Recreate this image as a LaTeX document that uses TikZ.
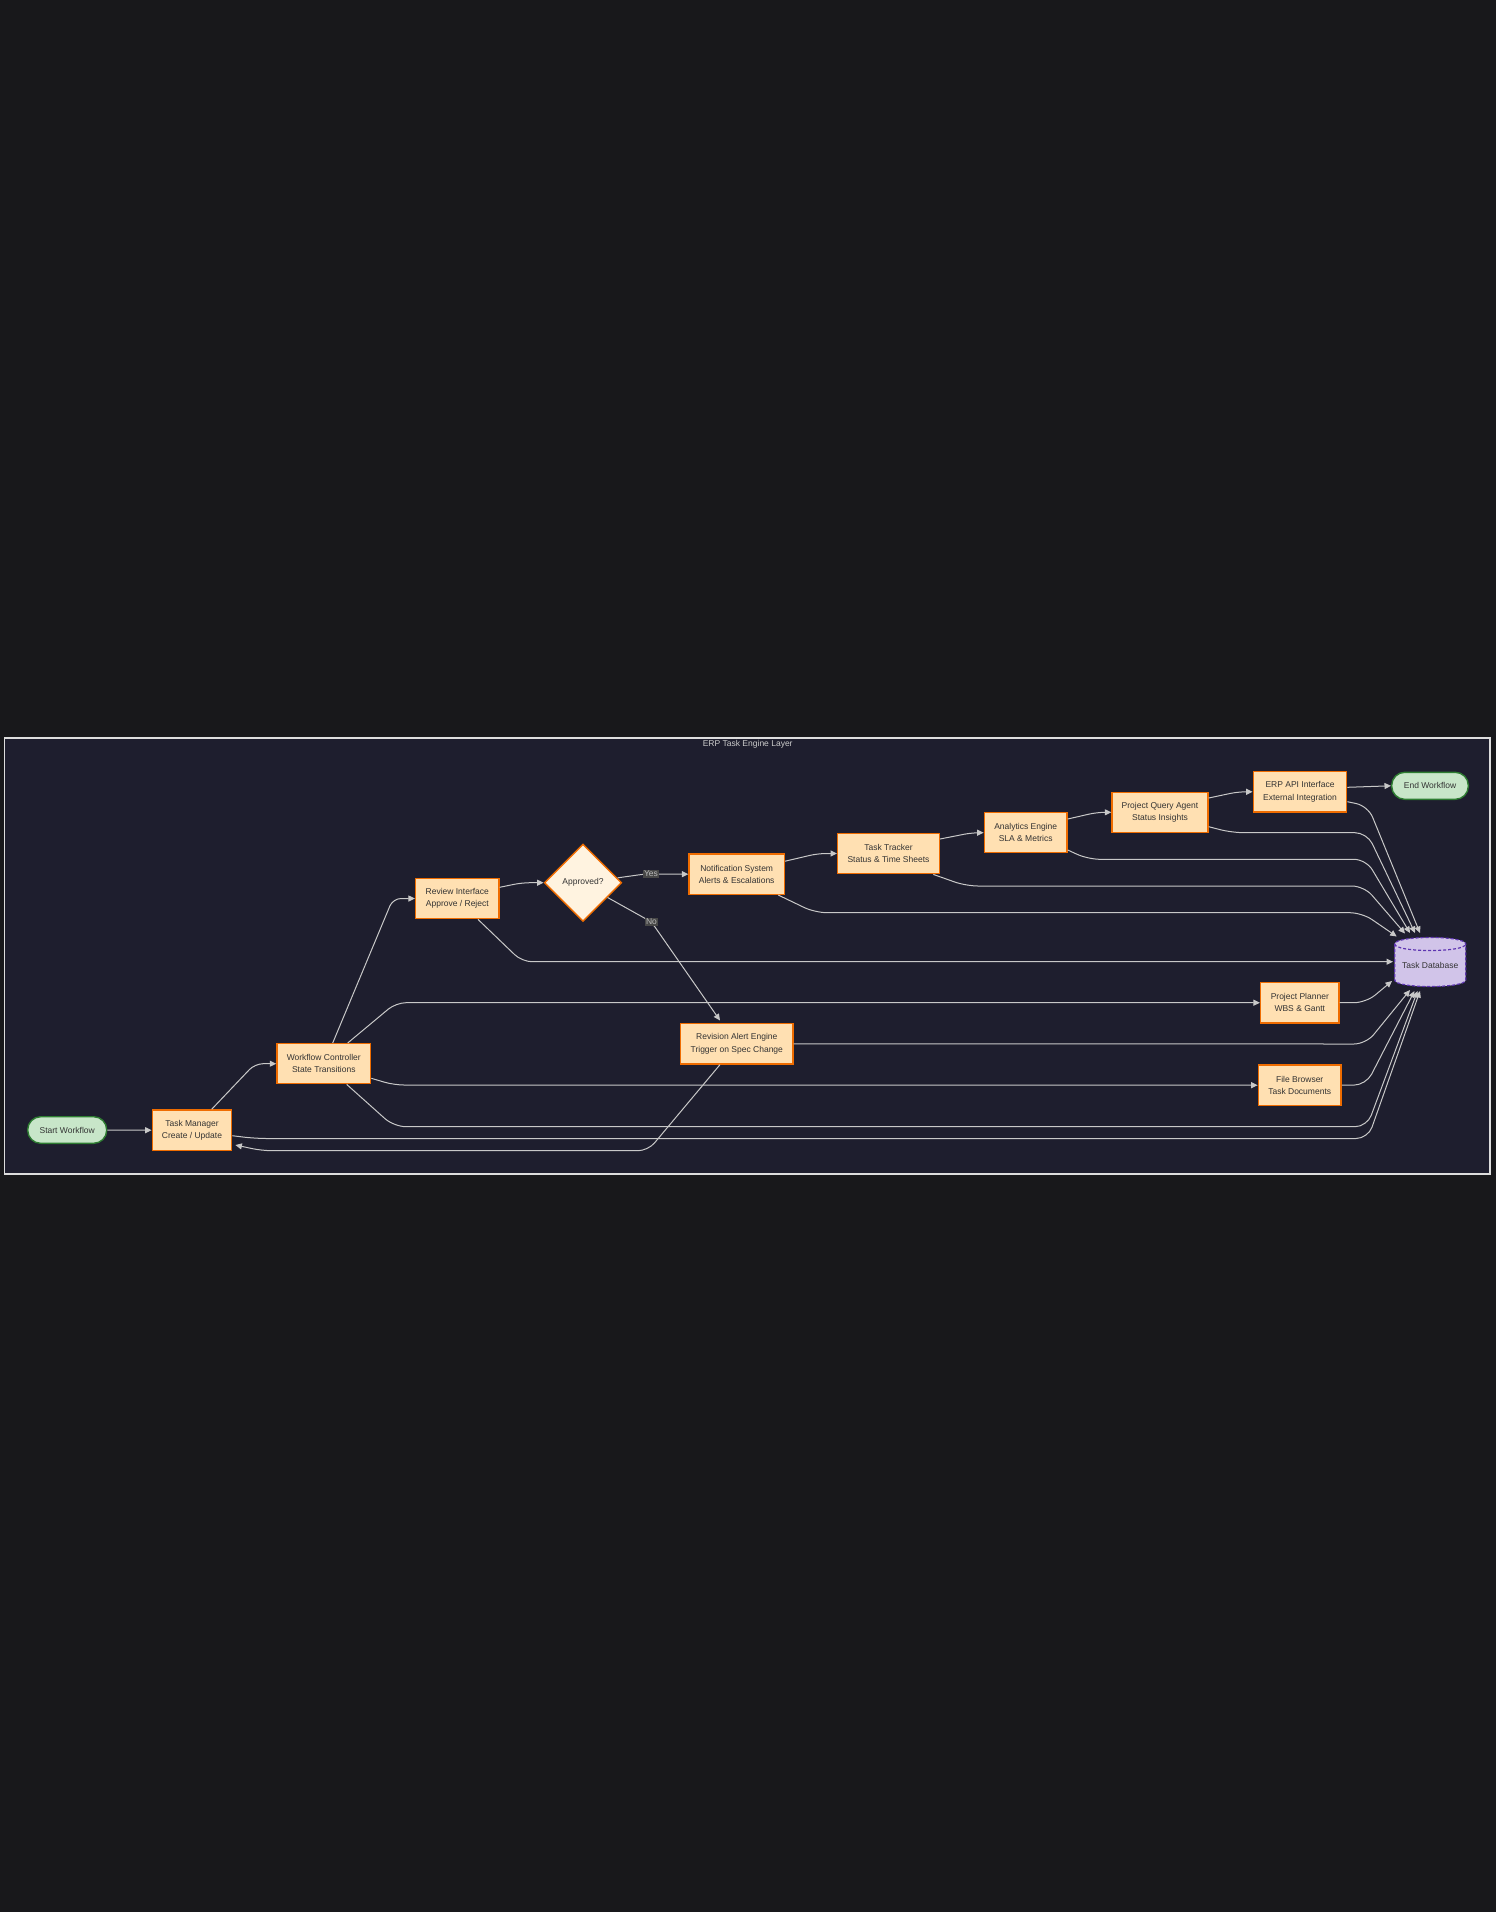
\documentclass[tikz,border=0pt]{standalone}
\usepackage{fontspec}
\setmainfont{Liberation Sans}
\usetikzlibrary{arrows.meta,shapes.geometric}
\definecolor{bgout}{HTML}{18181B}
\definecolor{bgin}{HTML}{1E1E2E}
\definecolor{framec}{HTML}{DDDDDD}
\definecolor{nodefill}{HTML}{FFE0B2}
\definecolor{nodedraw}{HTML}{EF6C00}
\definecolor{termfill}{HTML}{C8E6C9}
\definecolor{termdraw}{HTML}{2E7D32}
\definecolor{decfill}{HTML}{FFF3E0}
\definecolor{dbfill}{HTML}{D1C4E9}
\definecolor{dbdraw}{HTML}{5E35B1}
\definecolor{edgec}{HTML}{C8C8C8}
\definecolor{lblfill}{HTML}{474747}
\definecolor{lbltext}{HTML}{BBBBBB}
\definecolor{txt}{HTML}{333333}
\definecolor{titlec}{HTML}{CCCCCC}
\tikzset{
  basefont/.style={font=\fontsize{8.5pt}{12.3pt}\selectfont},
  proc/.style={basefont, draw=nodedraw, fill=nodefill, line width=1.4pt, align=center, inner sep=0pt, text=txt},
  term/.style={basefont, draw=termdraw, fill=termfill, line width=1.4pt, align=center, inner sep=0pt, text=txt, rounded corners=13pt},
  decision/.style={basefont, diamond, aspect=1, draw=nodedraw, fill=decfill, line width=1.4pt, inner sep=0pt, text=txt, minimum width=77.4pt, minimum height=77.4pt},
  arr/.style={draw=edgec, line width=1pt, -{Triangle[length=6.5pt,width=6pt]}},
  lbl/.style={basefont, fill=lblfill, text=lbltext, inner sep=1.2pt},
}
\begin{document}
\begin{tikzpicture}[x=1pt,y=-1pt]
\fill[bgout] (0,0) rectangle (1496,1912);
\useasboundingbox (0,0) rectangle (1496,1912);
% frame
\draw[framec, line width=1.2pt, fill=bgin] (4.3,738) rectangle (1490,1174);
\node[basefont, text=titlec] (title) at (747.7,744.5) {ERP Task Engine Layer};

% nodes
\node[term, minimum width=79pt, minimum height=26.6pt] (startw) at (67.2,1130) {Start Workflow};
\node[proc, minimum width=79.4pt, minimum height=40.7pt] (tm) at (192,1130.3) {Task Manager\\Create / Update};
\node[proc, minimum width=93.7pt, minimum height=40pt] (wc) at (323.8,1063.7) {Workflow Controller\\State Transitions};
\node[proc, minimum width=83.3pt, minimum height=40.4pt] (review) at (457.3,898.5) {Review Interface\\Approve / Reject};
\node[decision] (approved) at (583,882.7) {Approved?};
\node[proc, minimum width=95.3pt, minimum height=40.3pt] (notif) at (736.7,874.2) {Notification System\\Alerts \& Escalations};
\node[proc, minimum width=101.6pt, minimum height=40.4pt] (tt) at (888.5,853.5) {Task Tracker\\Status \& Time Sheets};
\node[proc, minimum width=82.7pt, minimum height=40pt] (ana) at (1025.7,832.7) {Analytics Engine\\SLA \& Metrics};
\node[proc, minimum width=96pt, minimum height=40pt] (pq) at (1160,812.3) {Project Query Agent\\Status Insights};
\node[proc, minimum width=93.4pt, minimum height=40.3pt] (erp) at (1300,791.8) {ERP API Interface\\External Integration};
\node[term, minimum width=76.6pt, minimum height=27pt] (endw) at (1430,785.8) {End Workflow};
\node[proc, minimum width=112.3pt, minimum height=40.3pt] (rev) at (736.8,1043.8) {Revision Alert Engine\\Trigger on Spec Change};
\node[proc, minimum width=78.3pt, minimum height=40.7pt] (pp) at (1299.8,1002.7) {Project Planner\\WBS \& Gantt};
\node[proc, minimum width=82.7pt, minimum height=40.3pt] (fb) at (1299.7,1085.2) {File Browser\\Task Documents};

% database cylinder
\path[fill=dbfill, draw=dbdraw, line width=1.2pt, dash pattern=on 3pt off 2pt]
  (1394.7,944) -- (1394.7,980) .. controls (1394.7,988.7) and (1465.7,988.7) .. (1465.7,980)
  -- (1465.7,944) .. controls (1465.7,935.3) and (1394.7,935.3) .. (1394.7,944) -- cycle;
\draw[dbdraw, line width=1.2pt, dash pattern=on 3pt off 2pt]
  (1394.7,944) .. controls (1394.7,952.7) and (1465.7,952.7) .. (1465.7,944);
\node[basefont, text=txt, inner sep=0pt] (db) at (1430.2,965.5) {Task Database};

% database arrow ends
\coordinate (dbt1) at (1396.7,936.5);
\coordinate (dbt2) at (1405,933.5);
\coordinate (dbt3) at (1410,933);
\coordinate (dbt4) at (1415,933);
\coordinate (dbt5) at (1420,933);
\coordinate (dbl) at (1393,961.7);
\coordinate (dbb0) at (1392,981);
\coordinate (dbb1) at (1410,990);
\coordinate (dbb2) at (1414.5,991);
\coordinate (dbb3) at (1417.5,991);
\coordinate (dbb4) at (1420,991);

% main flow
\draw[arr] (startw) -- (tm);
\draw[arr, rounded corners=8pt] ([xshift=19.7pt]tm.north) -- (255,1063.7) -- (wc.west);
\draw[arr, rounded corners=8pt] ([xshift=8.9pt]wc.north) -- (393,898.5) -- (review.west);
\draw[arr, rounded corners=8pt] ([yshift=11.2pt]review.east) -- (522,882.7) -- (approved.west);
\draw[arr, rounded corners=6pt] (approved.8) -- (645,874) -- (notif.west);
\draw[arr, rounded corners=6pt] (approved.-31) -- (651.5,922) -- ([xshift=-16.8pt,yshift=2.5pt]rev.north);
\draw[arr, rounded corners=8pt] ([yshift=13pt]notif.east) -- (818,853.5) -- (tt.west);
\draw[arr, rounded corners=8pt] ([yshift=14.5pt]tt.east) -- (972,832.7) -- (ana.west);
\draw[arr, rounded corners=8pt] ([yshift=13.7pt]ana.east) -- (1097,812.3) -- (pq.west);
\draw[arr, rounded corners=8pt] ([yshift=14.3pt]pq.east) -- (1238,791.8) -- (erp.west);
\draw[arr] ([yshift=4.5pt]erp.east) -- (endw.west);

% branches from workflow controller
\draw[arr, rounded corners=10pt] ([xshift=23.9pt]wc.north) -- (396,1002.7) -- (pp.west);
\draw[arr, rounded corners=10pt] ([yshift=-14.6pt]wc.east) -- (394,1085) -- (fb.west);

% revision back to task manager
\draw[arr, rounded corners=10pt] ([xshift=-16.8pt]rev.south) -- (648,1150.7) -- (262,1150.7) -- ([yshift=-14.7pt,xshift=3pt]tm.east);

% edges to database
\draw[arr, rounded corners=12pt] ([xshift=41.6pt]notif.south) -- (815,912.7) -- (1362,912.7) -- (dbt1);
\draw[arr, rounded corners=12pt] ([xshift=44.8pt]tt.south) -- (966,886) -- (1364,886) -- (dbt2);
\draw[arr, rounded corners=12pt] ([yshift=-17.3pt]ana.east) -- (1088,859.3) -- (1366,859.3) -- (dbt3);
\draw[arr, rounded corners=12pt] ([yshift=-14.4pt]pq.east) -- (1232,832.7) -- (1367,832.7) -- (dbt4);
\draw[arr, rounded corners=12pt] ([yshift=-9.9pt]erp.east) -- (1368,806) -- (dbt5);
\draw[arr, rounded corners=10pt] ([xshift=20.7pt]review.south) -- (522,961.7) -- (dbl);
\draw[arr, rounded corners=12pt] (pp.east) -- (1366,1002.7) -- (dbb0);
\draw[arr, rounded corners=12pt] (rev.east) -- (1366,1044) -- (dbb1);
\draw[arr, rounded corners=12pt] (fb.east) -- (1366,1085) -- (dbb2);
\draw[arr, rounded corners=12pt] ([xshift=22.9pt]wc.south) -- (394,1126.7) -- (1367,1126.7) -- (dbb3);
\draw[arr, rounded corners=12pt] ([yshift=-5.4pt]tm.east) -- (255,1138.5) -- (1368,1138.5) -- (dbb4);

% edge labels
\node[lbl] (yes) at (651,874) {Yes};
\node[lbl] (no) at (651.5,922) {No};
\end{tikzpicture}
\end{document}
